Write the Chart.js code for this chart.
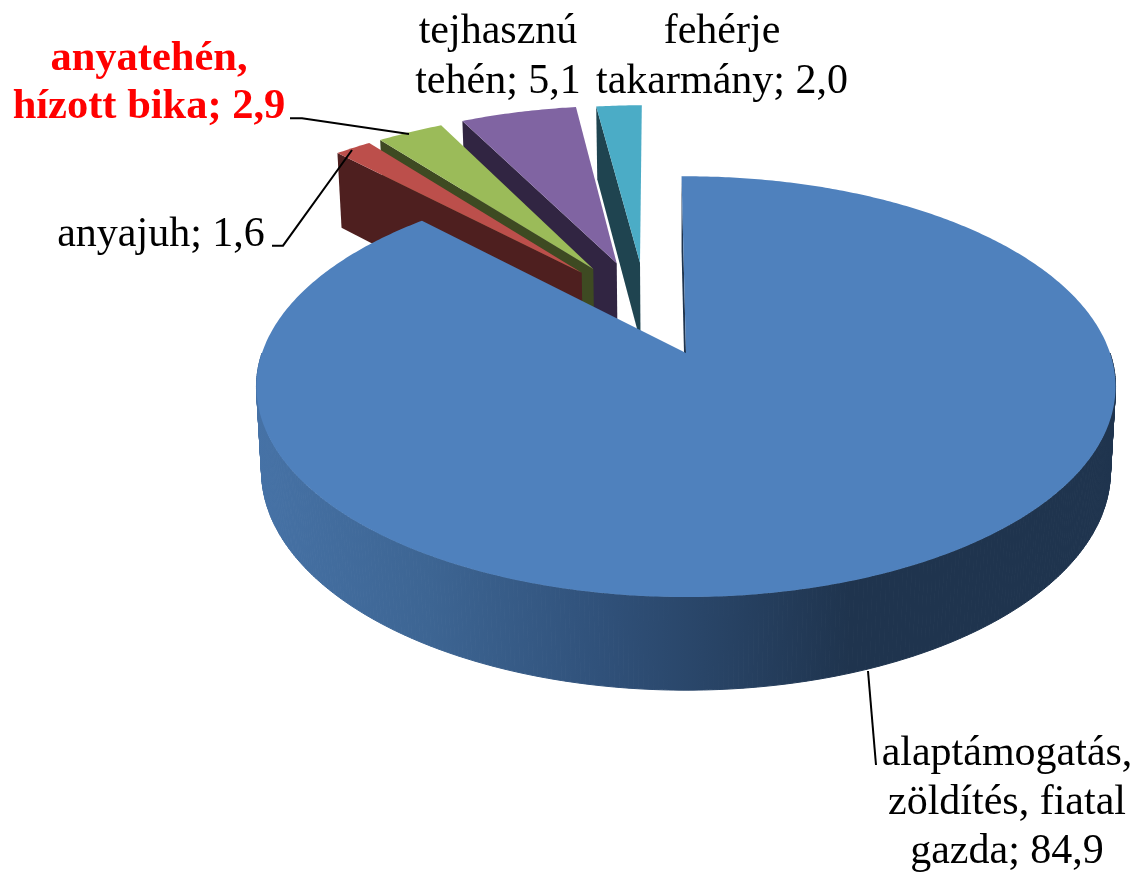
<!DOCTYPE html>
<html>
<head>
<meta charset="utf-8">
<title>pie</title>
<script src="https://cdn.jsdelivr.net/npm/chart.js@4"></script>
<style>
    html, body { margin: 0; background: #fff; }
    canvas { display: block; }
</style>
</head>
<body>
<canvas id="pie" width="1137" height="872"></canvas>
<script>
// the data
const categories = [
    ["alaptámogatás,", "zöldítés, fiatal", "gazda"],
    ["anyajuh"],
    ["anyatehén,", "hízott bika"],
    ["tejhasznú", "tehén"],
    ["fehérje", "takarmány"],
];
const values = [84.9, 1.6, 2.9, 5.1, 2.0];

// colours, top face / side wall
const topColors = ["#4f81bd", "#bc4f4b", "#9bbb59", "#8064a2", "#4bacc6"];
const wallColors = ["#1f344e", "#4e1f1f", "#3e4a22", "#312542", "#1f4450"];

// where the labels go: centre x, first baseline, line step
const labelPos = [[1007, 765, 49], [161, 246, 0], [149, 70, 48], [498, 43, 50], [722, 43, 50]];
const labelFont = ["42px", "42px", "bold 42.5px", "42px", "42px"];
const labelColor = ["#000", "#000", "#f00", "#000", "#000"];

// leader lines
const leaders = [
    [[868, 671], [876, 765]],
    [[272, 245.7], [283, 245.7], [352, 150]],
    [[290, 118.3], [302, 118.3], [409, 134]],
];

// explode, in pie radius units (excel doesnt move them along the bisector so its per slice)
const explode = [[0, 0], [-0.2624, -0.4179], [-0.234, -0.4385], [-0.1757, -0.4705], [-0.1167, -0.4739]];
const explodeScale = [1, 1.025, 1.025, 1.025, 1.025];

// perspective of the top and bottom plane
const K = 0.16;
const topPlane = { x: 686, y: 353, a: 424, b: 205 };
const botPlane = { x: 686, y: 436, a: 419, b: 213.5 };

function project(plane, u, v) {
    const w = 1 - K * v;
    return [plane.x + plane.a * u / w, plane.y + plane.b * v / w];
}

function pt(plane, i, angle) {
    const s = explodeScale[i];
    return project(plane, explode[i][0] + s * Math.cos(angle), explode[i][1] + s * Math.sin(angle));
}

function apex(plane, i) {
    return project(plane, explode[i][0], explode[i][1]);
}

function arcPoints(plane, i, a0, a1) {
    const n = Math.max(4, Math.ceil(Math.abs(a1 - a0) / 0.01));
    const out = [];
    for (let k = 0; k <= n; k++)
        out.push(pt(plane, i, a0 + (a1 - a0) * k / n));
    return out;
}

function fillPoly(ctx, points, color) {
    ctx.beginPath();
    points.forEach((p, k) => k ? ctx.lineTo(p[0], p[1]) : ctx.moveTo(p[0], p[1]));
    ctx.closePath();
    ctx.fillStyle = color;
    ctx.fill();
}

const pie3d = {
    id: "pie3d",
    // takes the arcs chart.js worked out and draws them as a 3d pie
    beforeDatasetsDraw(chart) {
        const ctx = chart.ctx;
        const arcs = chart.getDatasetMeta(0).data;

        // back to front, big one last
        for (let i = arcs.length - 1; i >= 0; i--) {
            const start = arcs[i].startAngle;
            const end = arcs[i].endAngle;

            // the cut side that faces us
            fillPoly(ctx, [apex(topPlane, i), pt(topPlane, i, start), pt(botPlane, i, start), apex(botPlane, i)], wallColors[i]);

            // round wall, quad by quad or the silhouette gets a notch at the sides
            // only the front half, the back one just leaves a dark fringe round the top
            if (i === 0) {
                const g = ctx.createLinearGradient(257, 0, 1116, 0);
                g.addColorStop(0, "#4672a6");
                g.addColorStop(0.2, "#3d6593");
                g.addColorStop(0.4, "#30517a");
                g.addColorStop(0.69, "#1f344e");
                g.addColorStop(1, "#1f344e");
                const a = arcPoints(topPlane, i, 0, Math.PI);
                const b = arcPoints(botPlane, i, 0, Math.PI);
                ctx.strokeStyle = g;
                ctx.lineWidth = 1;
                for (let k = 0; k < a.length - 1; k++) {
                    fillPoly(ctx, [a[k], a[k + 1], b[k + 1], b[k]], g);
                    ctx.stroke();
                }
            }

            // top face
            fillPoly(ctx, [apex(topPlane, i)].concat(arcPoints(topPlane, i, start, end)), topColors[i]);
        }
        return false;
    },
    afterDraw(chart) {
        const ctx = chart.ctx;

        ctx.strokeStyle = "#000";
        ctx.lineWidth = 2;
        for (const line of leaders) {
            ctx.beginPath();
            line.forEach((p, k) => k ? ctx.lineTo(p[0], p[1]) : ctx.moveTo(p[0], p[1]));
            ctx.stroke();
        }

        ctx.textAlign = "center";
        ctx.textBaseline = "alphabetic";
        categories.forEach((lines, i) => {
            const val = values[i].toFixed(1).replace(".", ",");
            ctx.font = `${labelFont[i]} "Liberation Serif"`;
            ctx.fillStyle = labelColor[i];
            lines.forEach((line, k) => {
                const txt = k === lines.length - 1 ? `${line}; ${val}` : line;
                ctx.fillText(txt, labelPos[i][0], labelPos[i][1] + k * labelPos[i][2]);
            });
        });
    },
};

new Chart(document.querySelector("#pie").getContext("2d"), {
    type: "pie",
    data: {
        labels: categories.map((c) => c.join(" ")),
        datasets: [
            {
                data: values,
                backgroundColor: topColors,
                borderWidth: 0,
            }
        ]
    },
    options: {
        responsive: false,
        animation: false,
        rotation: -0.7,
        plugins: { legend: { display: false }, tooltip: { enabled: false } },
    },
    plugins: [pie3d],
});
</script>
</body>
</html>
